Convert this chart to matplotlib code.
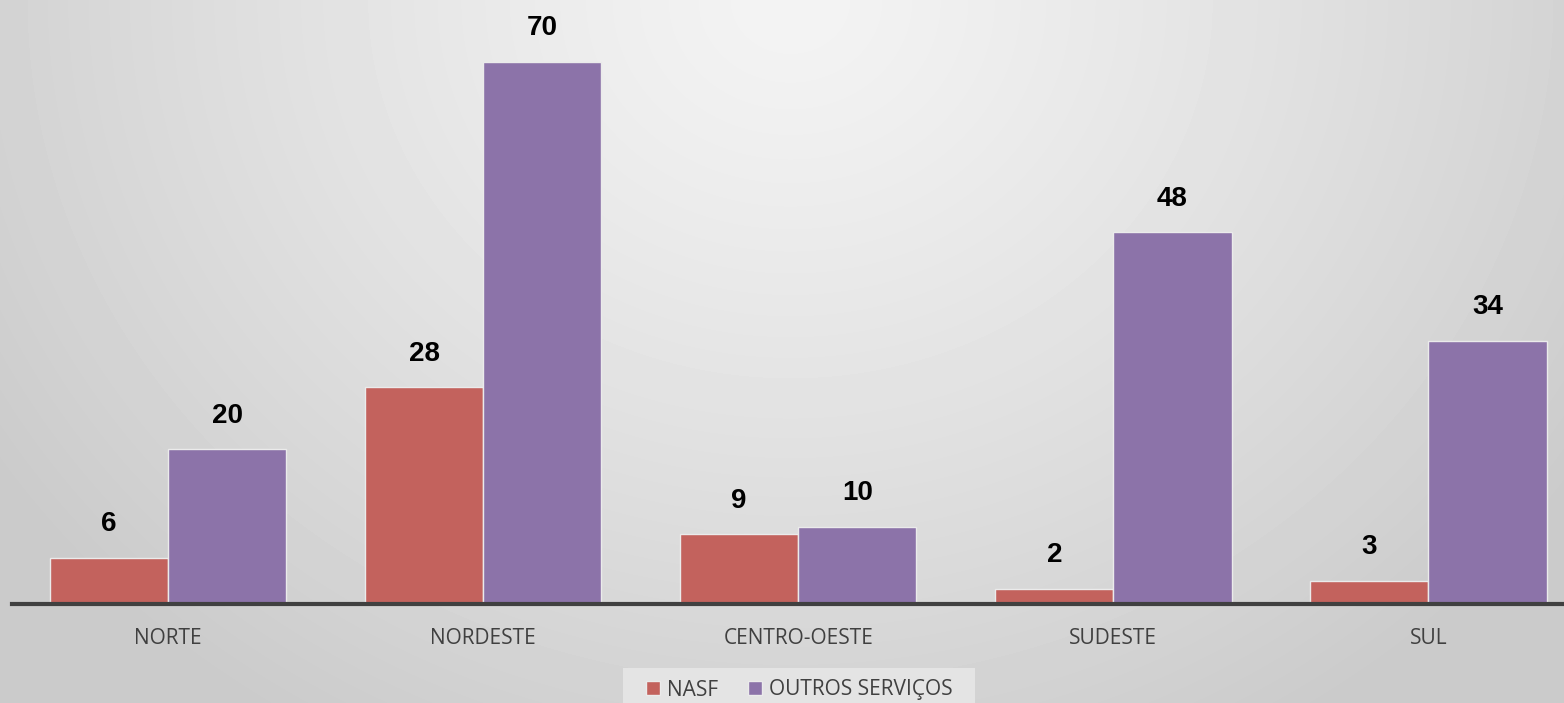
import numpy as np
import matplotlib.pyplot as plt
from matplotlib.patches import Rectangle

regioes = ['NORTE', 'NORDESTE', 'CENTRO-OESTE', 'SUDESTE', 'SUL']
nasf = [6, 28, 9, 2, 3]
outros = [20, 70, 10, 48, 34]
series_names = ['NASF', 'OUTROS SERVIÇOS']

c_nasf = '#C3625D'
c_outros = '#8C73A9'

W, H = 1564, 703
fig = plt.figure(figsize=(W / 100, H / 100), dpi=100)

# radial gradient background
bg = fig.add_axes([0, 0, 1, 1])
yy, xx = np.mgrid[0:H, 0:W]
r = np.sqrt(((xx - 790) / 950.0) ** 2 + ((yy - 0) / 850.0) ** 2)
r = np.clip(r, 0, 1)
shade = 0.955 - 0.16 * r ** 1.2
bg.imshow(shade, cmap='gray', vmin=0, vmax=1, aspect='auto', extent=[0, W, H, 0])
bg.axis('off')

# plot area
x0 = 12 / W
y0 = (H - 604) / H
ax = fig.add_axes([x0, y0, 1 - x0, 1 - y0])
ax.patch.set_alpha(0)

x = np.arange(len(regioes))
w = 0.375
b1 = ax.bar(x - w / 2, nasf, w, color=c_nasf, edgecolor='#ebebeb', linewidth=1, label=series_names[0])
b2 = ax.bar(x + w / 2, outros, w, color=c_outros, edgecolor='#ebebeb', linewidth=1, label=series_names[1])

for bars, vals in [(b1, nasf), (b2, outros)]:
    for b, v in zip(bars, vals):
        ax.text(b.get_x() + b.get_width() / 2, v + 4.3, str(v), ha='center', va='center',
                fontsize=20, fontweight='bold', family='Liberation Sans', color='black')

ax.set_xlim(-0.495, 4.43)
ax.set_ylim(0, 604 / 7.75)
for s in ['top', 'right', 'left']:
    ax.spines[s].set_visible(False)
ax.spines['bottom'].set_color('#404040')
ax.spines['bottom'].set_linewidth(3)
ax.set_yticks([])
ax.set_xticks(x)
ax.set_xticklabels(regioes, family='Open Sans', fontsize=15, color='#404040')
ax.tick_params(axis='x', length=0, pad=17)

# legend box
fig.patches.append(Rectangle((623 / W, 0), (975 - 623) / W, (703 - 668) / H,
                             transform=fig.transFigure, facecolor='#e4e4e4', edgecolor='none', zorder=1))
leg = fig.legend(handles=[b1, b2], labels=series_names, loc='center', bbox_to_anchor=(799 / W, 1 - 690 / H),
                 ncol=2, frameon=False, prop={'family': 'Open Sans', 'size': 15},
                 handlelength=0.67, handleheight=0.67, handletextpad=0.33, columnspacing=1.45,
                 borderpad=0, borderaxespad=0)
for t in leg.get_texts():
    t.set_color('#404040')

fig.savefig('out.png', dpi=100)
